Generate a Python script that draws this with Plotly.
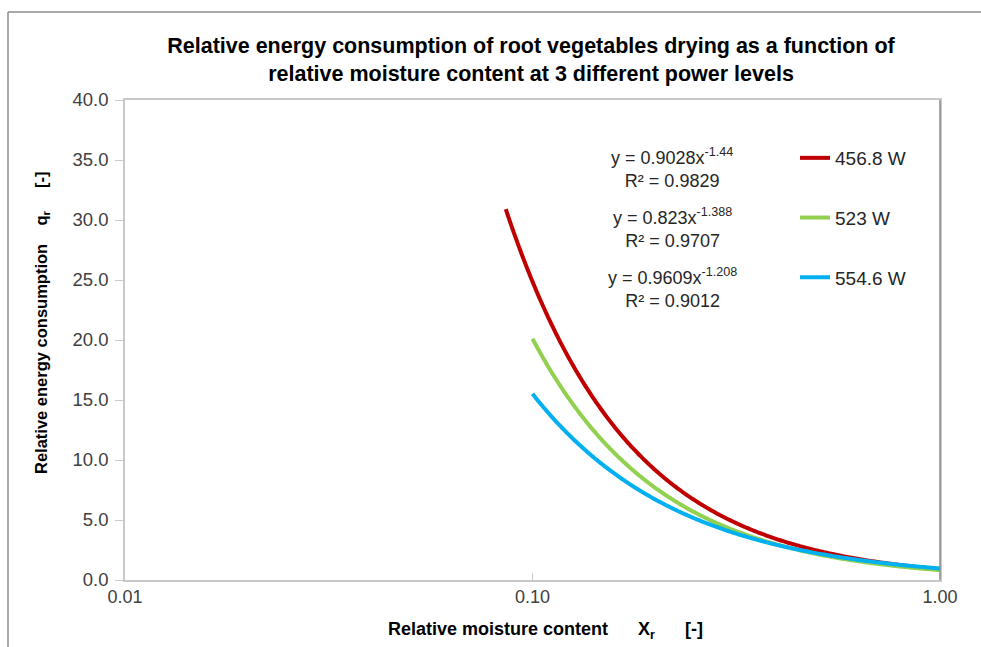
import numpy as np
import plotly.graph_objects as go

# Power-law fits q_r = a * X_r^b for the three microwave power levels
power_labels = ["456.8 W", "523 W", "554.6 W"]
coef_a = [0.9028, 0.823, 0.9609]
expo_b = [-1.44, -1.388, -1.208]
r_squared = ["0.9829", "0.9707", "0.9012"]
x_start = [0.086, 0.10, 0.10]
x_end = [1.0, 1.0, 1.0]
colors = ["#C00000", "#92D050", "#00B0F0"]

y_ticks = [0, 5, 10, 15, 20, 25, 30, 35, 40]
x_ticks = [0.01, 0.1, 1.0]
x_ticktext = ["0.01", "0.10", "1.00"]

FONT = "Liberation Sans, Arial, sans-serif"

fig = go.Figure()
for i, name in enumerate(power_labels):
    xs = np.logspace(np.log10(x_start[i]), np.log10(x_end[i]), 300)
    ys = coef_a[i] * xs ** expo_b[i]
    fig.add_trace(go.Scatter(
        x=xs, y=ys, mode="lines", name=name, legendgroup=name,
        line=dict(color=colors[i], width=4, simplify=False),
    ))

# Trendline equations beside the legend
eq_y = [157, 217, 277]
for i in range(3):
    a_txt = f"{coef_a[i]:g}"
    b_txt = f"{expo_b[i]:g}"
    fig.add_annotation(
        x=(672 - 125) / 815, y=(580 - eq_y[i] - 11) / 480,
        xref="paper", yref="paper", xanchor="center", yanchor="middle",
        text=f"y = {a_txt}x<sup>{b_txt}</sup><br>R² = {r_squared[i]}",
        showarrow=False, align="center",
        font=dict(family=FONT, size=18, color="#262626"),
    )

# Axis titles
fig.add_annotation(
    x=(42 - 125) / 815, y=(580 - 323) / 480, xref="paper", yref="paper",
    text="<b>Relative energy consumption    q<sub>r</sub>     [-]</b>",
    textangle=-90, showarrow=False, xanchor="center", yanchor="middle",
    font=dict(family=FONT, size=16.5, color="#000000"),
)
fig.add_annotation(
    x=(545 - 125) / 815, y=(580 - 630) / 480, xref="paper", yref="paper",
    text="<b>Relative moisture content      X<sub>r</sub>      [-]</b>",
    showarrow=False, xanchor="center", yanchor="middle",
    font=dict(family=FONT, size=18, color="#000000"),
)

# Outer chart frame and darker right edge of the plot area
fig.add_shape(type="line", xref="paper", yref="paper",
              x0=(8 - 125) / 815, x1=(990 - 125) / 815,
              y0=(580 - 12) / 480, y1=(580 - 12) / 480,
              line=dict(color="#8c8c8c", width=1.5))
fig.add_shape(type="line", xref="paper", yref="paper",
              x0=(8 - 125) / 815, x1=(8 - 125) / 815,
              y0=(580 - 12) / 480, y1=(580 - 660) / 480,
              line=dict(color="#8c8c8c", width=1.5))
fig.add_shape(type="line", xref="paper", yref="paper",
              x0=1, x1=1, y0=0, y1=1,
              line=dict(color="#8c8c8c", width=1.5))

fig.update_layout(
    width=981, height=647,
    margin=dict(l=125, r=41, t=100, b=67),
    paper_bgcolor="white", plot_bgcolor="white",
    title=dict(
        text="<b>Relative energy consumption of root vegetables drying as a function of<br>"
             "relative moisture content at 3 different power levels</b>",
        x=531 / 981, xanchor="center", y=1 - 53 / 647, yanchor="middle",
        font=dict(family=FONT, size=21.5, color="#000000"),
    ),
    font=dict(family=FONT, size=18, color="#404040"),
    legend=dict(
        x=(795 - 125) / 815, y=(580 - 139) / 480, xanchor="left", yanchor="top",
        bgcolor="rgba(0,0,0,0)", tracegroupgap=32, itemwidth=30,
        font=dict(family=FONT, size=19, color="#262626"),
    ),
    xaxis=dict(
        type="log", range=[-2, 0], tickvals=x_ticks, ticktext=x_ticktext,
        showgrid=False, zeroline=False, showline=True, linecolor="#c8c8c8",
        linewidth=1.5, mirror=True, ticks="inside", ticklen=7, tickcolor="#c8c8c8",
        tickfont=dict(family=FONT, size=18, color="#404040"),
    ),
    yaxis=dict(
        range=[0, 40], tickvals=y_ticks, tickformat=".1f",
        showgrid=False, zeroline=False, showline=True, linecolor="#c8c8c8",
        linewidth=1.5, mirror=True, ticks="outside", ticklen=8, tickcolor="#c8c8c8",
        ticklabelstandoff=3,
        tickfont=dict(family=FONT, size=18.5, color="#404040"),
    ),
)

fig.write_html("out.html")
